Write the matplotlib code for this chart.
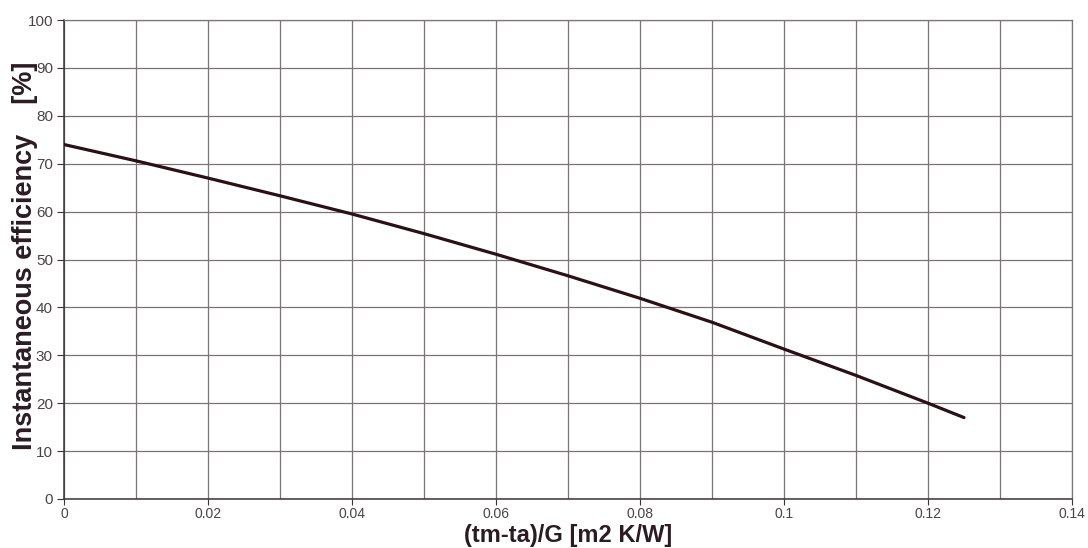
import matplotlib
matplotlib.use("Agg")
import matplotlib.pyplot as plt
from matplotlib.ticker import MultipleLocator

# Data
x_vals = [0.0, 0.01, 0.02, 0.03, 0.04, 0.05, 0.06, 0.07, 0.08, 0.09, 0.10, 0.11, 0.12, 0.125]
eff_vals = [74.0, 70.6, 67.0, 63.3, 59.5, 55.4, 51.1, 46.6, 41.9, 36.9, 31.3, 25.8, 20.0, 17.0]
x_tick_labels = ["0", "0.02", "0.04", "0.06", "0.08", "0.1", "0.12", "0.14"]
y_ticks = [0, 10, 20, 30, 40, 50, 60, 70, 80, 90, 100]

plt.rcParams['font.family'] = ['Liberation Sans', 'DejaVu Sans']

W, H = 1088, 548
ax_left, ax_right, ax_top, ax_bottom = 64, 1072, 20, 499

fig = plt.figure(figsize=(W/100, H/100), dpi=100)
ax = fig.add_axes([ax_left/W, 1-ax_bottom/H, (ax_right-ax_left)/W, (ax_bottom-ax_top)/H])

grid_col = "#7a7478"
ax.plot(x_vals, eff_vals, color="#2b1016", lw=2.3, solid_capstyle="round", zorder=3)

ax.set_xlim(0, 0.14)
ax.set_ylim(0, 100)
ax.set_xticks([i * 0.02 for i in range(len(x_tick_labels))])
ax.set_xticklabels(x_tick_labels)
ax.xaxis.set_minor_locator(MultipleLocator(0.01))
ax.set_yticks(y_ticks)
ax.set_yticklabels([str(v) for v in y_ticks])

ax.grid(True, which="both", color=grid_col, lw=0.9)
ax.tick_params(axis="x", which="minor", length=0)
ax.tick_params(axis="x", which="major", length=4, pad=1.5, labelsize=10, labelcolor="#4a4448", color="#3a3438")
ax.tick_params(axis="y", which="major", length=5, pad=3, labelsize=11, labelcolor="#4a4448", color="#3a3438")

for s in ["top", "right"]:
    ax.spines[s].set_color(grid_col)
    ax.spines[s].set_linewidth(0.9)
for s in ["left", "bottom"]:
    ax.spines[s].set_color("#3a3438")
    ax.spines[s].set_linewidth(1.1)

ax.set_xlabel("(tm-ta)/G [m2 K/W]", fontsize=17, fontweight="bold", color="#2a1c22", va="bottom")
ax.xaxis.set_label_coords(0.5, (ax_bottom-547)/(ax_bottom-ax_top))
ax.set_ylabel("Instantaneous efficiency    [%]", fontsize=19.5, fontweight="bold", color="#2a1c22", va="center")
ax.yaxis.set_label_coords((25-ax_left)/(ax_right-ax_left), 0.507)

fig.savefig("out.png", dpi=100, facecolor="white")
